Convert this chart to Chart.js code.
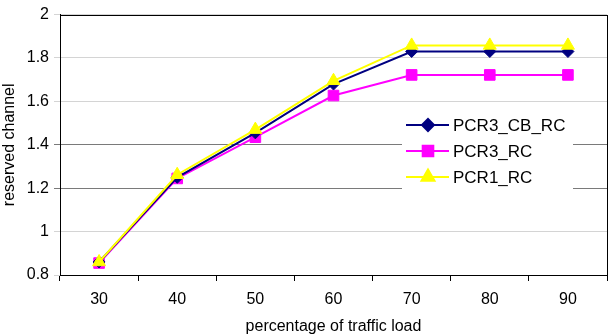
<!DOCTYPE html>
<html lang="en">
<head>
  <meta charset="UTF-8">
  <title>reserved channel vs traffic load</title>
  <script src="https://cdn.jsdelivr.net/npm/chart.js"></script>
  <style>
    html, body { margin: 0; padding: 0; background: #fff; }
    #wrap { width: 616px; height: 336px; }
  </style>
</head>
<body>
  <div id="wrap"><canvas id="myChart" width="616" height="336"></canvas></div>

  <script>
    // datos
    const loads = ['30', '40', '50', '60', '70', '80', '90'];
    const pcr3CbRc = [0.86, 1.25, 1.455, 1.68, 1.83, 1.83, 1.83];
    const pcr3Rc = [0.855, 1.245, 1.435, 1.627, 1.722, 1.722, 1.722];
    const pcr1Rc = [0.86, 1.262, 1.47, 1.695, 1.858, 1.858, 1.858];
    const yTicks = [0.8, 1, 1.2, 1.4, 1.6, 1.8, 2];

    const FONT = "'Liberation Sans', Arial, sans-serif";

    // leyenda dibujada dentro del area del grafico
    const boxLegend = {
      id: 'boxLegend',
      afterDatasetsDraw(chart) {
        const ctx = chart.ctx;
        const x0 = 402, y0 = 112, w = 171, h = 78;
        ctx.save();
        ctx.fillStyle = '#fff';
        ctx.fillRect(x0, y0, w, h);
        chart.data.datasets.forEach((ds, i) => {
          const y = 125 + i * 26;
          ctx.strokeStyle = ds.borderColor;
          ctx.lineWidth = 2;
          ctx.beginPath();
          ctx.moveTo(406, y);
          ctx.lineTo(449, y);
          ctx.stroke();
          ctx.fillStyle = ds.pointBackgroundColor;
          ctx.strokeStyle = ds.borderColor;
          Chart.helpers.drawPoint(ctx, {
            pointStyle: ds.pointStyle, radius: ds.pointRadius, rotation: 0, borderWidth: 1
          }, 428, y);
          ctx.fillStyle = '#000';
          ctx.font = '17px ' + FONT;
          ctx.textBaseline = 'middle';
          ctx.fillText(ds.label, 453, y + 1);
        });
        ctx.restore();
      }
    };

    // marco del area de trazado
    const frame = {
      id: 'frame',
      beforeDatasetsDraw(chart) {
        const a = chart.chartArea, ctx = chart.ctx;
        ctx.save();
        ctx.strokeStyle = '#000';
        ctx.lineWidth = 1;
        ctx.strokeRect(Math.round(a.left) + 0.5, Math.round(a.top) + 0.5,
          Math.round(a.right - a.left), Math.round(a.bottom - a.top));
        ctx.restore();
      }
    };

    const ctx = document.getElementById('myChart').getContext('2d');
    new Chart(ctx, {
      type: 'line',
      data: {
        labels: loads,
        datasets: [
          {
            label: 'PCR3_CB_RC', data: pcr3CbRc, order: 1,
            borderColor: '#000080', backgroundColor: '#000080', pointBackgroundColor: '#000080',
            pointStyle: 'rectRot', pointRadius: 6, borderWidth: 2, pointBorderWidth: 1
          },
          {
            label: 'PCR3_RC', data: pcr3Rc, order: 2,
            borderColor: '#ff00ff', backgroundColor: '#ff00ff', pointBackgroundColor: '#ff00ff',
            pointStyle: 'rect', pointRadius: 7.5, borderWidth: 2, pointBorderWidth: 1
          },
          {
            label: 'PCR1_RC', data: pcr1Rc, order: 0,
            borderColor: '#ffff00', backgroundColor: '#ffff00', pointBackgroundColor: '#ffff00',
            pointStyle: 'triangle', pointRadius: 7.5, borderWidth: 2, pointBorderWidth: 1
          }
        ]
      },
      options: {
        responsive: false,
        animation: false,
        layout: { padding: { left: 0, right: 9, top: 10, bottom: 0 } },
        plugins: { legend: { display: false }, tooltip: { enabled: false } },
        scales: {
          x: {
            offset: true,
            grid: { offset: true, drawOnChartArea: false, color: '#000', tickLength: 6 },
            border: { color: '#000' },
            ticks: { color: '#000', font: { family: FONT, size: 16 }, padding: 9 },
            title: {
              display: true, text: 'percentage of traffic load', color: '#000',
              font: { family: FONT, size: 16 }, padding: { top: 0, bottom: 0 }
            },
            afterFit(scale) { scale.height = 61; }
          },
          y: {
            min: 0.8, max: 2,
            afterBuildTicks(scale) { scale.ticks = yTicks.map(v => ({ value: v })); },
            grid: {
              tickLength: 6,
              color(c) {
                const v = c.tick && c.tick.value;
                if (v === 1.4 || v === 1.2) return '#7a7a7a';
                return '#d4d4d4';
              }
            },
            border: { color: '#000' },
            ticks: {
              color: '#000', font: { family: FONT, size: 16 }, padding: 5,
              callback: v => String(Math.round(v * 10) / 10)
            },
            title: {
              display: true, text: 'reserved channel', color: '#000',
              font: { family: FONT, size: 16 }, padding: { top: 0, bottom: 0 }
            },
            afterFit(scale) { scale.width = 60; }
          }
        }
      },
      plugins: [frame, boxLegend]
    });
  </script>
</body>
</html>
